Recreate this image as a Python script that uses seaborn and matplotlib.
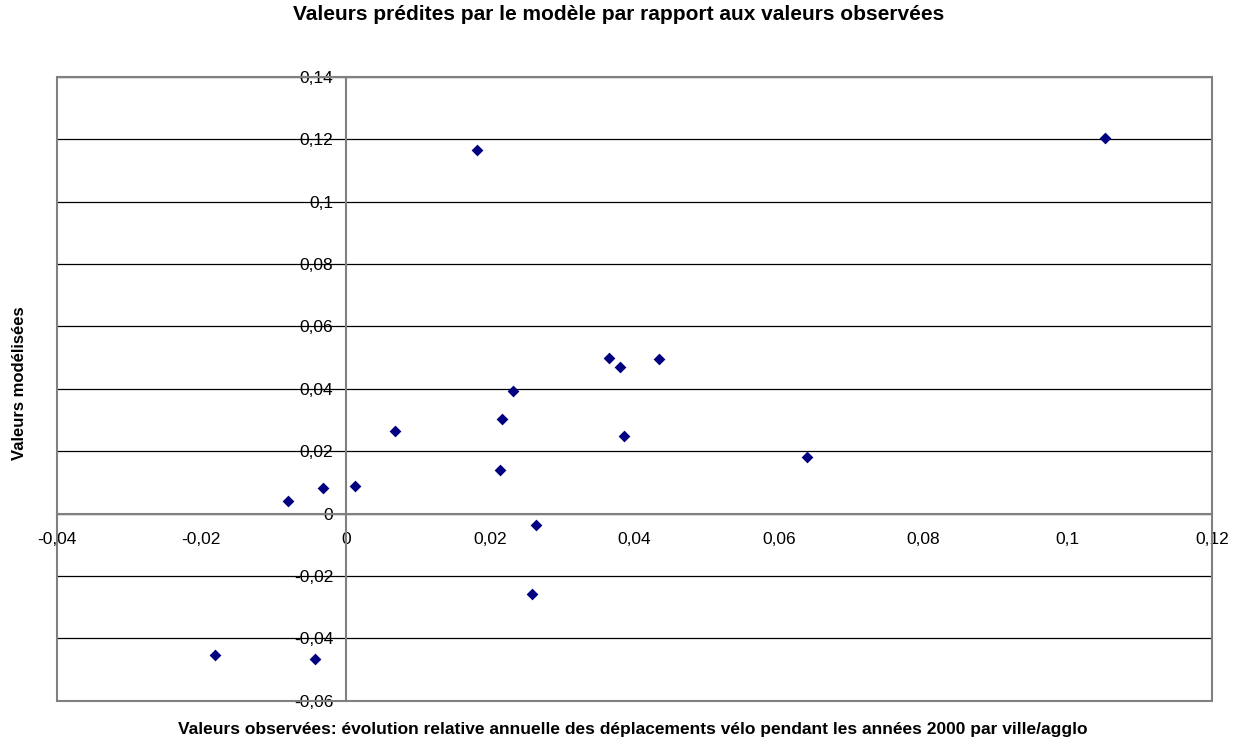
import numpy as np
import seaborn as sns
import matplotlib.pyplot as plt
from matplotlib.ticker import FuncFormatter, MultipleLocator
from matplotlib.patches import Rectangle

# Valeurs
observees = [0.1052, 0.0182, 0.0365, 0.0380, 0.0434, 0.0385, 0.0639,
             0.0232, 0.0217, 0.0068, 0.0213, 0.0013, -0.0032, -0.0080,
             0.0263, 0.0258, -0.0181, -0.0043]
modelisees = [0.1204, 0.1165, 0.0497, 0.0471, 0.0495, 0.0248, 0.0181,
              0.0394, 0.0303, 0.0263, 0.0138, 0.0089, 0.0082, 0.0041,
              -0.0036, -0.0257, -0.0454, -0.0467]

titre = "Valeurs prédites par le modèle par rapport aux valeurs observées"
label_x = "Valeurs observées: évolution relative annuelle des déplacements vélo pendant les années 2000 par ville/agglo"
label_y = "Valeurs modélisées"

sns.set_style("white")
plt.rcParams['font.family'] = ['Liberation Sans', 'DejaVu Sans']
plt.rcParams['text.color'] = 'black'

fig = plt.figure(figsize=(12.4, 7.44), dpi=100)
ax = fig.add_axes([0.046, 0.0582, 0.9314, 0.8387])

sns.scatterplot(x=observees, y=modelisees, marker='D', color='#000080',
                s=36, linewidth=0, ax=ax, zorder=5)

ax.set_xlim(-0.04, 0.12)
ax.set_ylim(-0.06, 0.14)
ax.xaxis.set_major_locator(MultipleLocator(0.02))
ax.yaxis.set_major_locator(MultipleLocator(0.02))


def virgule(v, pos):
    v = round(v, 6)
    if v == 0:
        return "0"
    return "{:g}".format(v).replace(".", ",")


ax.xaxis.set_major_formatter(FuncFormatter(virgule))
ax.yaxis.set_major_formatter(FuncFormatter(virgule))

# axes qui se croisent en zéro, comme dans Excel
ax.spines['left'].set_position(('data', 0))
ax.spines['bottom'].set_position(('data', 0))
ax.spines['top'].set_visible(False)
ax.spines['right'].set_visible(False)
for s in ['left', 'bottom']:
    ax.spines[s].set_color('#808080')
    ax.spines[s].set_linewidth(1.5)
    ax.spines[s].set_zorder(3)

ax.yaxis.grid(True, color='black', linewidth=0.9)
ax.set_axisbelow(True)
ax.add_patch(Rectangle((0, 0), 1, 1, transform=ax.transAxes, fill=False,
                       edgecolor='#808080', linewidth=1.5, zorder=4, clip_on=False))

ax.tick_params(axis='both', direction='out', length=4, width=1, color='#808080',
               labelsize=12.5, labelcolor='black')
ax.tick_params(axis='y', pad=5)
ax.tick_params(axis='x', pad=9)
ax.set_xlabel("")
ax.set_ylabel("")

fig.text(0.4988, 0.980, titre, ha='center', va='center', fontsize=15, fontweight='bold')
fig.text(0.5105, 0.020, label_x, ha='center', va='center', fontsize=12.5, fontweight='bold')
fig.text(0.016, 0.4845, label_y, ha='center', va='center', rotation=90,
         fontsize=12, fontweight='bold')

fig.savefig("out.png", dpi=100)
